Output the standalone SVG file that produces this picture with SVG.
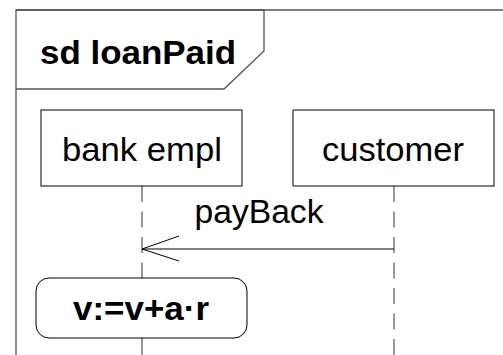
<svg xmlns="http://www.w3.org/2000/svg" width="503" height="355" viewBox="0 0 503 355">
  <style>
    .frame { fill: none; stroke: #555; stroke-width: 1.3; }
    .box { fill: #fff; stroke: #000; stroke-width: 1; }
    .life { fill: none; stroke: #555; stroke-width: 1.2; stroke-dasharray: 16 9.5; }
    .msg { fill: none; stroke: #000; stroke-width: 1; }
    .lbl { font-family: "Liberation Sans", Arial, sans-serif; font-size: 34px; fill: #000; text-anchor: middle; }
    .bold { font-weight: bold; }
  </style>
  <rect width="503" height="355" fill="#fff"/>
  <g id="frame">
    <path class="frame" d="M16,355 V10 H503"/>
    <path class="frame" d="M16,10 H264 V51 L224,89 H16"/>
    <text class="lbl bold" x="138" y="64" textLength="196" lengthAdjust="spacingAndGlyphs">sd loanPaid</text>
  </g>
  <g id="connectors">
    <line class="life" x1="142" y1="186" x2="142" y2="278"/>
    <line class="life" x1="142" y1="338" x2="142" y2="355" style="stroke-dasharray:none"/>
    <line class="life" x1="394" y1="186" x2="394" y2="355"/>
    <g id="msg-payBack">
      <line class="msg" x1="394" y1="249" x2="142" y2="249"/>
      <path class="msg" d="M179,236 L142,249 L179,261"/>
      <text class="lbl" x="259" y="223" textLength="129" lengthAdjust="spacingAndGlyphs">payBack</text>
    </g>
  </g>
  <g id="bank-empl">
    <rect class="box" x="41" y="110" width="201" height="76"/>
    <text class="lbl" x="142" y="161" textLength="160" lengthAdjust="spacingAndGlyphs">bank empl</text>
  </g>
  <g id="customer">
    <rect class="box" x="293" y="110" width="201" height="76"/>
    <text class="lbl" x="393" y="161" textLength="142" lengthAdjust="spacingAndGlyphs">customer</text>
  </g>
  <g id="action">
    <rect class="box" x="36" y="278" width="211" height="60" rx="13" ry="13"/>
    <text class="lbl bold" x="141" y="320" textLength="136" lengthAdjust="spacingAndGlyphs">v:=v+a·r</text>
  </g>
</svg>
